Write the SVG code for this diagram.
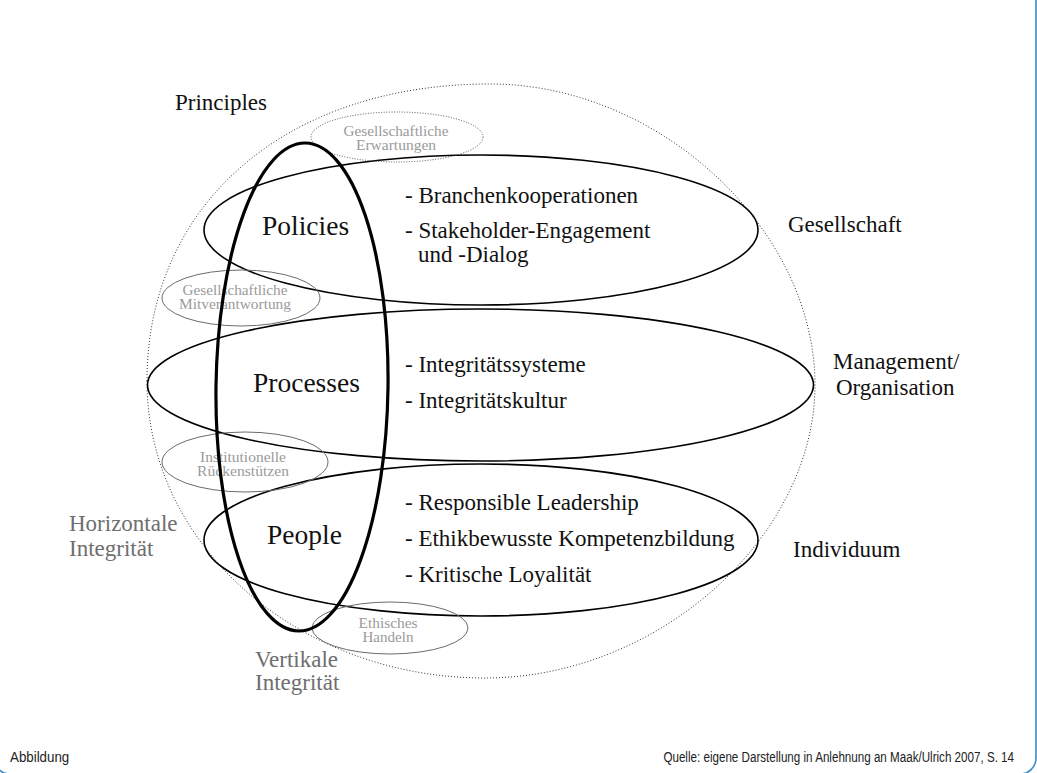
<svg xmlns="http://www.w3.org/2000/svg" width="1037" height="773" viewBox="0 0 1037 773">
  <style>
    .serif { font-family: "Liberation Serif", "Times New Roman", serif; }
    .label { font-size: 23px; fill: #111; }
    .layer { font-size: 27.5px; fill: #111; }
    .note { font-size: 14.5px; fill: #9a9a9a; text-anchor: middle; }
    .axis { font-size: 23px; fill: #6e6e6e; }
    .ring { fill: none; stroke: #000; stroke-width: 1.6; }
    .pillar { fill: none; stroke: #000; stroke-width: 3.2; }
    .bubble { fill: none; stroke: #6a6a6a; stroke-width: 1; }
    .bubble-dotted { fill: none; stroke: #555; stroke-width: 1; stroke-dasharray: 1 1.6; }
    .sphere { fill: none; stroke: #333; stroke-width: 1; stroke-dasharray: 1 2; }
    .foot { font-family: "Liberation Sans", Arial, sans-serif; font-size: 15.5px; fill: #222; }
  </style>

  <!-- page frame -->
  <rect x="-6" y="-30" width="1042" height="804" rx="16" ry="16" fill="none" stroke="#3a8cc6" stroke-width="1.6"/>

  <!-- outer sphere: principles -->
  <g id="principles">
    <path class="sphere" d="M 147 381 C 147 205 285 84 490 84 C 660 84 815 230 815 385 C 815 535 660 678 485 678 C 298 678 147 545 147 381 Z"/>
    <text class="serif label" x="175" y="110">Principles</text>
  </g>

  <!-- horizontal levels -->
  <g id="policies">
    <ellipse class="ring" cx="481" cy="230" rx="277" ry="75"/>
    <text class="serif layer" x="262" y="235">Policies</text>
    <text class="serif label" x="405" y="203">- Branchenkooperationen</text>
    <text class="serif label" x="405" y="238">- Stakeholder-Engagement</text>
    <text class="serif label" x="418" y="262">und -Dialog</text>
  </g>

  <g id="processes">
    <ellipse class="ring" cx="480.5" cy="385" rx="333" ry="76"/>
    <text class="serif layer" x="253" y="392">Processes</text>
    <text class="serif label" x="405" y="372">- Integritätssysteme</text>
    <text class="serif label" x="405" y="408">- Integritätskultur</text>
  </g>

  <g id="people">
    <ellipse class="ring" cx="481" cy="540" rx="277" ry="76"/>
    <text class="serif layer" x="267" y="544">People</text>
    <text class="serif label" x="405" y="510">- Responsible Leadership</text>
    <text class="serif label" x="405" y="546">- Ethikbewusste Kompetenzbildung</text>
    <text class="serif label" x="405" y="582">- Kritische Loyalität</text>
  </g>

  <!-- level names on the right -->
  <g id="level-gesellschaft">
    <text class="serif label" x="788" y="232">Gesellschaft</text>
  </g>
  <g id="level-organisation">
    <text class="serif label" x="833" y="369">Management/</text>
    <text class="serif label" x="836" y="395">Organisation</text>
  </g>
  <g id="level-individuum">
    <text class="serif label" x="793" y="557">Individuum</text>
  </g>

  <!-- linking bubbles between the levels -->
  <g id="erwartungen">
    <ellipse class="bubble-dotted" cx="397" cy="137" rx="86" ry="25"/>
    <text class="serif note" x="396" y="136" textLength="105" lengthAdjust="spacingAndGlyphs">Gesellschaftliche</text>
    <text class="serif note" x="396" y="150" textLength="80" lengthAdjust="spacingAndGlyphs">Erwartungen</text>
  </g>
  <g id="mitverantwortung">
    <ellipse class="bubble" cx="241" cy="298" rx="79" ry="28"/>
    <text class="serif note" x="235" y="295" textLength="105" lengthAdjust="spacingAndGlyphs">Gesellschaftliche</text>
    <text class="serif note" x="235" y="309" textLength="112" lengthAdjust="spacingAndGlyphs">Mitverantwortung</text>
  </g>
  <g id="rueckenstuetzen">
    <ellipse class="bubble" cx="245" cy="462" rx="83" ry="30"/>
    <text class="serif note" x="243" y="462" textLength="86" lengthAdjust="spacingAndGlyphs">Institutionelle</text>
    <text class="serif note" x="243" y="476" textLength="92" lengthAdjust="spacingAndGlyphs">Rückenstützen</text>
  </g>
  <g id="handeln">
    <ellipse class="bubble" cx="390" cy="628" rx="78" ry="26"/>
    <text class="serif note" x="388" y="628" textLength="59" lengthAdjust="spacingAndGlyphs">Ethisches</text>
    <text class="serif note" x="388" y="642" textLength="51" lengthAdjust="spacingAndGlyphs">Handeln</text>
  </g>

  <!-- vertical pillar crossing all levels -->
  <g id="vertical-pillar">
    <ellipse class="pillar" cx="302" cy="387" rx="86" ry="244" transform="rotate(0.8 302 387)"/>
  </g>

  <!-- axis captions -->
  <g id="horizontal-integritaet">
    <text class="serif axis" x="69" y="531">Horizontale</text>
    <text class="serif axis" x="69" y="556">Integrität</text>
  </g>
  <g id="vertikale-integritaet">
    <text class="serif axis" x="255" y="667">Vertikale</text>
    <text class="serif axis" x="255" y="690">Integrität</text>
  </g>

  <!-- footer, set in a condensed sans -->
  <g id="footer">
    <text class="foot" transform="translate(10 762) scale(0.86 1)">Abbildung</text>
    <text class="foot" text-anchor="end" transform="translate(1014 762) scale(0.75 1)">Quelle: eigene Darstellung in Anlehnung an Maak/Ulrich 2007, S. 14</text>
  </g>
</svg>
